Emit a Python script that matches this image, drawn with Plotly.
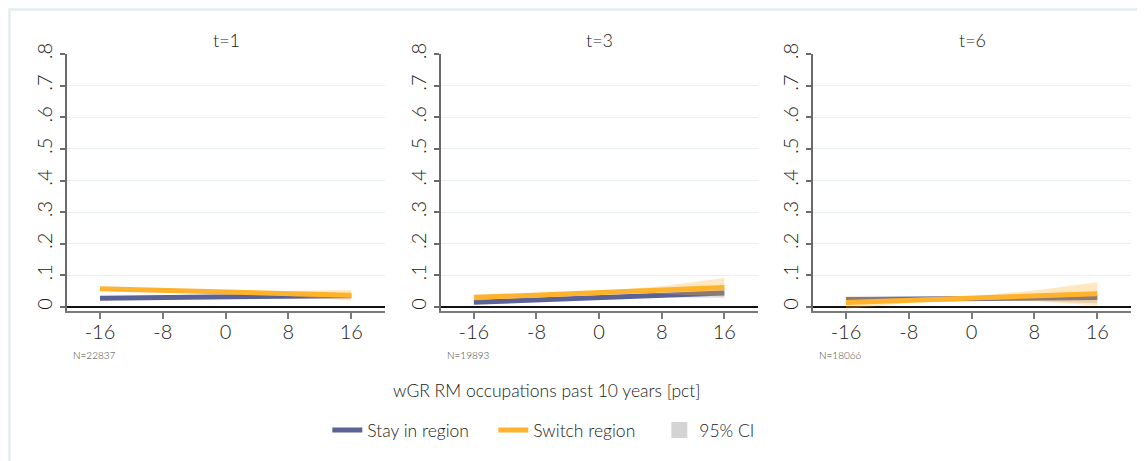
import plotly.graph_objects as go

# ---------------- data ----------------
x_vals = [-16, -8, 0, 8, 16]
panel_titles = ["t=1", "t=3", "t=6"]
panel_n = ["N=22837", "N=19893", "N=18066"]

stay_mean = [
    [0.028, 0.030, 0.032, 0.034, 0.036],
    [0.015, 0.022, 0.029, 0.036, 0.044],
    [0.024, 0.025, 0.027, 0.028, 0.030],
]
stay_lo = [
    [0.023, 0.027, 0.029, 0.029, 0.029],
    [0.010, 0.019, 0.026, 0.030, 0.029],
    [0.016, 0.021, 0.023, 0.020, 0.012],
]
stay_hi = [
    [0.033, 0.033, 0.035, 0.039, 0.043],
    [0.020, 0.025, 0.032, 0.042, 0.059],
    [0.032, 0.029, 0.031, 0.036, 0.048],
]
switch_mean = [
    [0.058, 0.053, 0.048, 0.043, 0.037],
    [0.030, 0.038, 0.046, 0.054, 0.062],
    [0.014, 0.021, 0.028, 0.035, 0.042],
]
switch_lo = [
    [0.052, 0.049, 0.044, 0.035, 0.020],
    [0.020, 0.033, 0.042, 0.042, 0.033],
    [-0.006, 0.013, 0.022, 0.018, 0.005],
]
switch_hi = [
    [0.064, 0.057, 0.052, 0.051, 0.054],
    [0.040, 0.043, 0.050, 0.066, 0.092],
    [0.034, 0.029, 0.034, 0.052, 0.078],
]

y_tickvals = [0, 0.1, 0.2, 0.3, 0.4, 0.5, 0.6, 0.7, 0.8]
y_ticktext = ["0", ".1", ".2", ".3", ".4", ".5", ".6", ".7", ".8"]
x_tickvals = [-16, -8, 0, 8, 16]
x_ticktext = ["-16", "-8", "0", "8", "16"]

x_axis_title = "wGR RM occupations past 10 years [pct]"
legend_names = ["Stay in region", "Switch region", "95% CI"]

# ---------------- styling ----------------
OFF = 8                      # default page body margin
W, H = 1145 - OFF, 461 - OFF
FONT = "Lato"
WT = 300
TXT = "#1a1a1a"
STAY = "#5b6396"
SWITCH = "#ffb22b"
STAY_CI = "rgba(92,99,150,0.22)"
SWITCH_CI = "rgba(255,178,43,0.30)"


def px_x(p):
    return (p - OFF) / W


def px_y(p):
    return 1 - (p - OFF) / H


def fnt(size, color=TXT):
    return dict(family=FONT, size=size, color=color, weight=WT)


panel_px = [(67, 385), (441, 758), (813, 1131)]
y_top_px, y_bot_px = 54, 311
ydom = [px_y(y_bot_px), px_y(y_top_px)]

fig = go.Figure()

for i in range(3):
    xa = "x" if i == 0 else f"x{i+1}"
    ya = "y" if i == 0 else f"y{i+1}"
    fig.add_trace(go.Scatter(
        x=x_vals + x_vals[::-1], y=stay_hi[i] + stay_lo[i][::-1],
        fill="toself", fillcolor=STAY_CI, line=dict(width=0),
        mode="lines", hoverinfo="skip", showlegend=False, xaxis=xa, yaxis=ya))
    fig.add_trace(go.Scatter(
        x=x_vals, y=stay_mean[i], mode="lines",
        line=dict(color=STAY, width=5), showlegend=False, xaxis=xa, yaxis=ya))
    fig.add_trace(go.Scatter(
        x=x_vals + x_vals[::-1], y=switch_hi[i] + switch_lo[i][::-1],
        fill="toself", fillcolor=SWITCH_CI, line=dict(width=0),
        mode="lines", hoverinfo="skip", showlegend=False, xaxis=xa, yaxis=ya))
    fig.add_trace(go.Scatter(
        x=x_vals, y=switch_mean[i], mode="lines",
        line=dict(color=SWITCH, width=5), showlegend=False, xaxis=xa, yaxis=ya))

# legend entries
fig.add_trace(go.Scatter(x=[None], y=[None], mode="lines",
                         line=dict(color=STAY, width=5), name=legend_names[0]))
fig.add_trace(go.Scatter(x=[None], y=[None], mode="lines",
                         line=dict(color=SWITCH, width=5), name=legend_names[1]))
fig.add_trace(go.Scatter(x=[None], y=[None], mode="markers",
                         marker=dict(symbol="square", size=16, color="#d4d4d4",
                                     line=dict(width=0)),
                         name=legend_names[2]))

layout = dict(
    template="none",
    width=W, height=H,
    margin=dict(l=0, r=0, t=0, b=0, pad=0, autoexpand=False),
    paper_bgcolor="white", plot_bgcolor="white",
    font=fnt(17),
    legend=dict(orientation="h", x=px_x(333) - 0.005, xanchor="left",
                y=px_y(430), yanchor="middle",
                font=fnt(17.5),
                itemwidth=30, entrywidth=121, entrywidthmode="pixels",
                bgcolor="rgba(0,0,0,0)", borderwidth=0),
    annotations=[],
    shapes=[dict(type="rect", xref="paper", yref="paper",
                 x0=1.5 / W, x1=1.05, y0=-0.05, y1=1 - 1.5 / H,
                 line=dict(color="#e3edf0", width=2.5), layer="above")],
)

for i in range(3):
    suffix = "" if i == 0 else str(i + 1)
    x0, x1 = panel_px[i]
    layout["xaxis" + suffix] = dict(
        domain=[px_x(x0), px_x(x1)], range=[-20.2, 20.3],
        tickvals=x_tickvals, ticktext=x_ticktext,
        showline=True, linecolor="#7a7a7a", linewidth=2,
        ticks="outside", ticklen=6, tickwidth=2, tickcolor="#7a7a7a",
        showgrid=False, zeroline=False, automargin=False,
        tickfont=fnt(20), ticklabelstandoff=-4,
        anchor="y" + suffix, fixedrange=True,
    )
    layout["yaxis" + suffix] = dict(
        domain=ydom, range=[-0.0126, 0.8],
        tickvals=y_tickvals, ticktext=y_ticktext, tickangle=-90,
        showline=True, linecolor="#6a6a6a", linewidth=1.5,
        ticks="outside", ticklen=5, tickwidth=1.5, tickcolor="#6a6a6a",
        showgrid=True, gridcolor="#e8f0f3", gridwidth=1,
        zeroline=True, zerolinecolor="#111111", zerolinewidth=1.5,
        automargin=False,
        tickfont=fnt(20),
        ticklabelstandoff=0,
        anchor="x" + suffix, fixedrange=True,
    )
    layout["annotations"].append(dict(
        text=panel_titles[i], xref="paper", yref="paper",
        x=px_x((x0 + x1) / 2), y=px_y(40), xanchor="center", yanchor="middle",
        showarrow=False, font=fnt(18)))
    layout["annotations"].append(dict(
        text=panel_n[i], xref="paper", yref="paper",
        x=px_x(x0 + 4), y=px_y(355), xanchor="left", yanchor="middle",
        showarrow=False, font=dict(family=FONT, size=10, color="#444444")))

layout["annotations"].append(dict(
    text=x_axis_title, xref="paper", yref="paper",
    x=px_x(547), y=px_y(390), xanchor="center", yanchor="middle",
    showarrow=False, font=fnt(17.5)))

fig.update_layout(**layout)
fig.write_html("out.html")
